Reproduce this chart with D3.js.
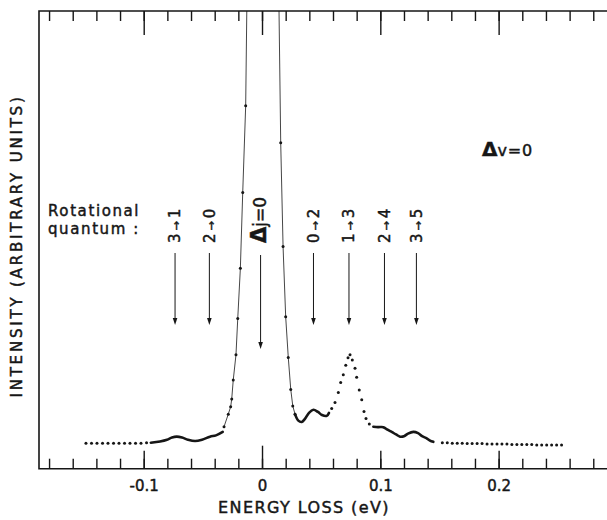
<!DOCTYPE html>
<html>
<head>
<meta charset="utf-8">
<script src="https://cdn.jsdelivr.net/npm/d3@7"></script>
<style>
  body { margin: 0; background: #fff; }
  svg { display: block; font-family: "DejaVu Sans", sans-serif; }
  svg text { fill: #161616; stroke: #161616; stroke-width: 0.45px; }
</style>
</head>
<body>
<div id="chart"></div>
<script>
// energy loss (eV) / intensity (arb. units), segment by segment
const leftTailE = [-0.1488, -0.1441, -0.1395, -0.1348, -0.1302, -0.1255, -0.1209, -0.1162, -0.1116, -0.1069, -0.1023, -0.0976];
const leftTailI = [0.2, 0.2, 0.2, 0.2, 0.2, 0.2, 0.2, 0.2, 0.2, 0.2, 0.2, 0.3];

const leftWaveE = [-0.0940, -0.0862, -0.0803, -0.0761, -0.0721, -0.0676, -0.0626, -0.0566, -0.0507, -0.0440, -0.0389, -0.0332];
const leftWaveI = [0.3, 0.6, 1.0, 1.5, 1.7, 1.5, 1.0, 0.7, 1.0, 1.7, 2.0, 2.8];

const peakE = [-0.0321, -0.0285, -0.0265, -0.0256, -0.0243, -0.0220, -0.0205, -0.0183, -0.0163, -0.0138, -0.0118, 0.0010, 0.0132, 0.0158, 0.0178, 0.0200, 0.0222, 0.0243, 0.0260, 0.0279];
const peakI = [4.0, 6.9, 8.6, 10.4, 14.8, 20.6, 29.0, 40.6, 58.1, 78.1, 125, 500, 125, 69.6, 45.6, 29.4, 20.0, 12.6, 8.8, 6.9];
const peakShown = [true, true, true, true, true, true, true, true, true, true, false, false, false, true, true, true, true, true, true, true];

const midWaveE = [0.0279, 0.0307, 0.0336, 0.0363, 0.0397, 0.0434, 0.0473, 0.0507, 0.0547, 0.0566];
const midWaveI = [6.9, 5.4, 5.1, 5.8, 7.2, 7.9, 7.4, 6.7, 6.5, 7.2];

const secondPeakE = [0.0589, 0.0617, 0.0645, 0.0665, 0.0687, 0.0708, 0.0727, 0.0744, 0.0763, 0.0786, 0.0800, 0.0822, 0.0843, 0.0862, 0.0879, 0.0907];
const secondPeakI = [8.2, 9.6, 11.9, 14.2, 16.0, 18.2, 19.9, 20.6, 19.4, 17.5, 15.4, 12.5, 10.2, 7.5, 5.9, 4.6];

const rightWaveE = [0.0941, 0.0981, 0.1025, 0.1061, 0.1096, 0.1133, 0.1167, 0.1200, 0.1234, 0.1279, 0.1319, 0.1353, 0.1392, 0.1420, 0.1448];
const rightWaveI = [4.0, 3.9, 3.9, 3.3, 2.8, 2.2, 1.7, 1.8, 2.4, 2.8, 2.5, 1.8, 1.3, 0.8, 0.5];

const rightTailE = [0.1524, 0.1566, 0.1608, 0.1650, 0.1692, 0.1734, 0.1776, 0.1818, 0.1860, 0.1902, 0.1944, 0.1986, 0.2028, 0.2070, 0.2112, 0.2154, 0.2196, 0.2238, 0.2280, 0.2322, 0.2364, 0.2406, 0.2448, 0.2490, 0.2532];
const rightTailI = [0.3, 0.3, 0.2, 0.2, 0.2, 0.1, 0.1, 0.1, 0.1, 0.0, 0.0, 0.0, 0.0, 0.0, -0.1, -0.1, -0.1, -0.1, -0.1, -0.2, -0.2, -0.2, -0.2, -0.2, -0.2];

// rotational transitions marked with arrows
const lineE = [-0.0735, -0.0445, -0.0012, 0.0435, 0.0735, 0.1035, 0.1305];
const lineFrom = ["3", "2", null, "0", "1", "2", "3"];
const lineTo = ["1", "0", null, "2", "3", "4", "5"];

const majorTicks = [-0.1, 0, 0.1, 0.2];
const majorLabels = ["-0.1", "0", "0.1", "0.2"];

const W = 607, H = 520;
const box = { left: 39, right: 607, top: 11, bottom: 468.7 };

const x = d3.scaleLinear().domain([-0.1885, 0.2916]).range([box.left, box.right]);
const y = d3.scaleLinear().domain([-5.7, 100]).range([box.bottom, box.top]);

const zip = (es, is) => es.map((e, i) => ({ e, v: is[i] }));

const svg = d3.select("#chart").append("svg")
  .attr("width", W)
  .attr("height", H);

svg.append("clipPath").attr("id", "clip")
  .append("rect")
  .attr("x", box.left).attr("y", box.top)
  .attr("width", box.right - box.left).attr("height", box.bottom - box.top);

const ink = "#161616";

// ticks
const minor = x.ticks(24);
function tickAxis(axis, y0, size, values) {
  const g = svg.append("g")
    .attr("transform", `translate(0,${y0})`)
    .call(axis(x).tickValues(values).tickSize(size).tickFormat(""));
  g.select(".domain").remove();
  g.selectAll("line").attr("stroke", ink).attr("stroke-width", 1.4);
  return g;
}
tickAxis(d3.axisBottom, box.bottom, -10, minor);
tickAxis(d3.axisBottom, box.bottom, -18, majorTicks.filter(d => d !== 0));
tickAxis(d3.axisBottom, box.bottom, -23, [0]);
tickAxis(d3.axisTop, box.top, -10, minor);
tickAxis(d3.axisTop, box.top, -24, majorTicks);

const labels = svg.append("g")
  .attr("transform", `translate(0,${box.bottom})`)
  .call(d3.axisBottom(x).tickValues(majorTicks).tickSize(0).tickPadding(12)
    .tickFormat((d, i) => majorLabels[i]));
labels.select(".domain").remove();
labels.selectAll("text")
  .style("font-family", "DejaVu Sans, sans-serif")
  .style("font-size", "15px");

// frame: left, top, bottom (right side is cut off)
svg.append("path")
  .attr("d", `M${box.right},${box.top}H${box.left}V${box.bottom}H${box.right}`)
  .attr("fill", "none")
  .attr("stroke", ink)
  .attr("stroke-width", 1.6);

// trace
const plot = svg.append("g").attr("clip-path", "url(#clip)");
const line = d3.line().x(d => x(d.e)).y(d => y(d.v));

plot.append("path")
  .datum(zip(peakE, peakI))
  .attr("d", line)
  .attr("fill", "none")
  .attr("stroke", ink)
  .attr("stroke-width", 0.8);

[[leftWaveE, leftWaveI], [midWaveE, midWaveI], [rightWaveE, rightWaveI]].forEach(([es, is]) => {
  plot.append("path")
    .datum(zip(es, is))
    .attr("d", line.curve(d3.curveCatmullRom))
    .attr("fill", "none")
    .attr("stroke", ink)
    .attr("stroke-width", 2.6)
    .attr("stroke-linecap", "round");
});

const dots = [].concat(
  zip(leftTailE, leftTailI),
  zip(peakE, peakI).filter((d, i) => peakShown[i]),
  zip(secondPeakE, secondPeakI),
  zip(rightTailE, rightTailI)
);
plot.selectAll("circle.dot")
  .data(dots)
  .join("circle")
  .attr("class", "dot")
  .attr("cx", d => x(d.e))
  .attr("cy", d => y(d.v))
  .attr("r", 1.5)
  .attr("fill", ink);

// arrows and their labels
const arrowTop = 253, arrowTip = 325, centreTip = 349, labelBase = 243;
lineE.forEach((e, i) => {
  const cx = x(e);
  const tip = lineFrom[i] === null ? centreTip : arrowTip;
  svg.append("line")
    .attr("x1", cx).attr("x2", cx)
    .attr("y1", arrowTop + (lineFrom[i] === null ? 2 : 0)).attr("y2", tip - 5)
    .attr("stroke", ink).attr("stroke-width", 1);
  svg.append("path")
    .attr("d", `M${cx - 2.3},${tip - 7}L${cx + 2.3},${tip - 7}L${cx},${tip}Z`)
    .attr("fill", ink);

  const t = svg.append("text")
    .attr("transform", `translate(${cx},${labelBase}) rotate(-90)`)
    .attr("dy", "0.36em");
  if (lineFrom[i] === null) {
    t.append("tspan").attr("font-size", 21).attr("font-weight", "bold").text("Δ");
    t.append("tspan").attr("font-size", 17).text("j=0");
  } else {
    t.attr("font-size", 15);
    t.append("tspan").text(lineFrom[i]);
    t.append("tspan").attr("font-size", 11).attr("dx", 3).text("→");
    t.append("tspan").attr("dx", 3).text(lineTo[i]);
  }
});

// annotations
svg.append("text")
  .attr("x", 48).attr("y", 216)
  .attr("font-size", 15).attr("letter-spacing", 1.6)
  .text("Rotational");
svg.append("text")
  .attr("x", 48).attr("y", 234)
  .attr("font-size", 15).attr("letter-spacing", 1.6)
  .text("quantum :");

const dv = svg.append("text")
  .attr("x", 482).attr("y", 156);
dv.append("tspan").attr("font-size", 20).attr("font-weight", "bold").text("Δ");
dv.append("tspan").attr("font-size", 16).attr("letter-spacing", 0.8).text("v=0");

// axis titles
svg.append("text")
  .attr("x", 304).attr("y", 513)
  .attr("text-anchor", "middle")
  .attr("font-size", 16).attr("letter-spacing", 1.4)
  .text("ENERGY LOSS (eV)");

svg.append("text")
  .attr("transform", `translate(17,246) rotate(-90)`)
  .attr("text-anchor", "middle")
  .attr("dy", "0.36em")
  .attr("font-size", 15).attr("letter-spacing", 2.8)
  .text("INTENSITY (ARBITRARY UNITS)");
</script>
</body>
</html>
